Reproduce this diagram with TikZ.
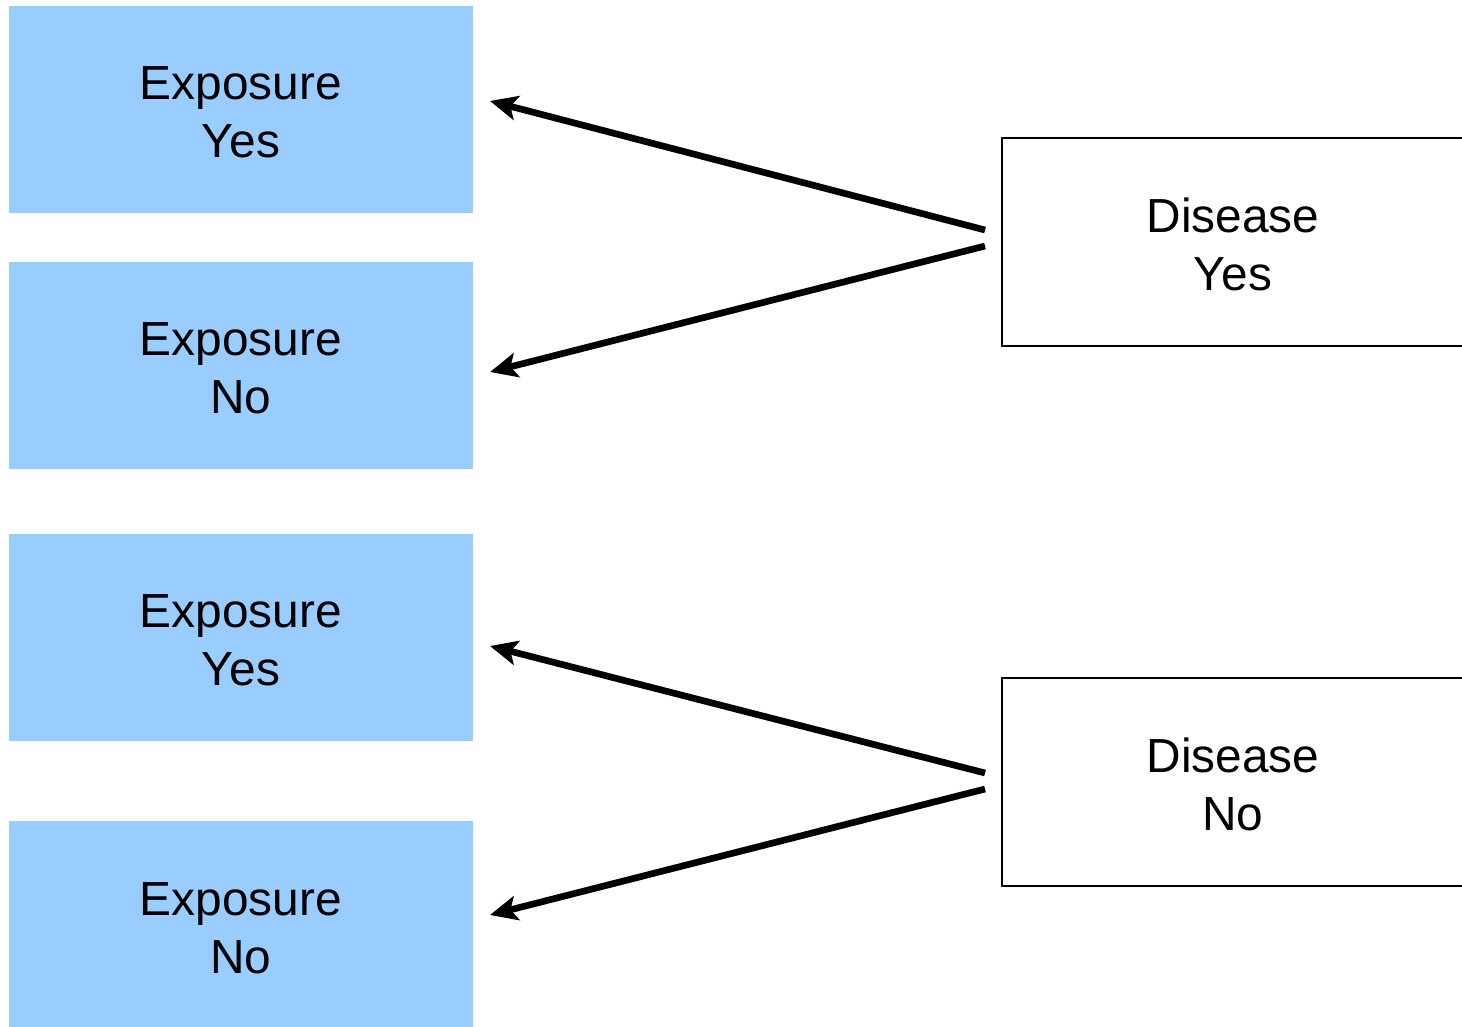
\documentclass[tikz,border=0pt]{standalone}
\usepackage{fontspec}
\setmainfont{Liberation Sans}
\usetikzlibrary{arrows.meta}
\definecolor{expblue}{HTML}{99CCFF}
\tikzset{
  lbl/.style={font=\fontsize{13.6pt}{16.5pt}\selectfont, align=center},
  expbox/.style={fill=expblue, draw=none, minimum width=4.64cm, minimum height=2.07cm,
    inner sep=0pt},
  disbox/.style={draw=black, line width=0.6pt, fill=white, minimum width=5.2cm, minimum height=2.08cm,
    inner sep=0pt, anchor=west},
  link/.style={line width=1.9pt, -{Stealth[length=7.8pt, width=7pt, inset=1.8pt]}}
}
\begin{document}
\begin{tikzpicture}[x=0.01cm, y=-0.01cm]
  \useasboundingbox (0,0) rectangle (1462,1027);
  % exposure boxes
  \node[expbox] (e1) at (241,109.5) {};
  \node[expbox] (e2) at (241,365.5) {};
  \node[expbox] (e3) at (241,637.5) {};
  \node[expbox] (e4) at (241,924.5) {};
  \node[lbl] (e1t) at (241,112) {Exposure\\Yes};
  \node[lbl] (e2t) at (241,368) {Exposure\\No};
  \node[lbl] (e3t) at (241,640) {Exposure\\Yes};
  \node[lbl] (e4t) at (241,928) {Exposure\\No};
  % disease boxes (running off the right edge)
  \node[disbox] (d1) at (1001,242) {};
  \node[disbox] (d2) at (1001,782) {};
  \node[lbl] (d1t) at (1233,244) {Disease\\Yes};
  \node[lbl] (d2t) at (1233,784) {Disease\\No};
  % arrow end points
  \coordinate (s1) at (985,230);
  \coordinate (s2) at (985,246);
  \coordinate (s3) at (985,773);
  \coordinate (s4) at (985,789);
  \coordinate (t1) at (490,101);
  \coordinate (t2) at (490,372);
  \coordinate (t3) at (490,646);
  \coordinate (t4) at (490,915);
  \draw[link] (s1) -- (t1);
  \draw[link] (s2) -- (t2);
  \draw[link] (s3) -- (t3);
  \draw[link] (s4) -- (t4);
\end{tikzpicture}
\end{document}
